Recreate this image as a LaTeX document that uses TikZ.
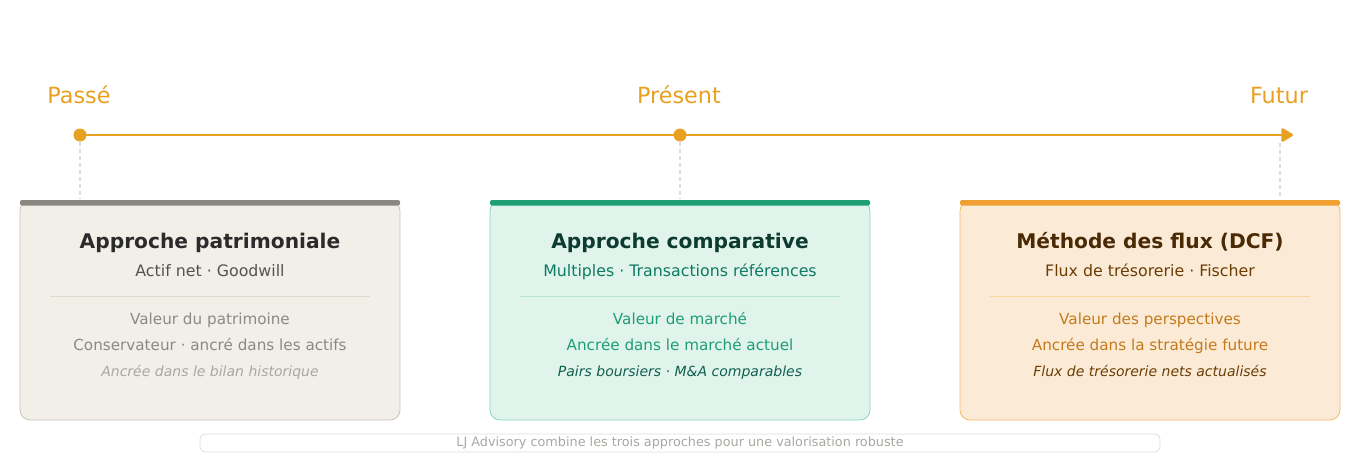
\documentclass[tikz,border=0pt]{standalone}
\usepackage{fontspec}
\setmainfont{DejaVu Sans}
\usetikzlibrary{arrows.meta}

\definecolor{tlorange}{HTML}{E8A020}
\definecolor{tick}{HTML}{DDDDDD}
% patrimoniale
\definecolor{pfill}{HTML}{F2EFE8}
\definecolor{pborder}{HTML}{C8C4BC}
\definecolor{pbar}{HTML}{8A8780}
\definecolor{ptitle}{HTML}{2B2B2B}
\definecolor{psub}{HTML}{555250}
\definecolor{ptxt}{HTML}{8C8883}
\definecolor{pnote}{HTML}{AAA7A2}
\definecolor{psep}{HTML}{DEDAD2}
% comparative
\definecolor{cfill}{HTML}{E0F4EC}
\definecolor{cborder}{HTML}{8CD2BA}
\definecolor{cbar}{HTML}{1E9E74}
\definecolor{ctitle}{HTML}{0D3B30}
\definecolor{csub}{HTML}{0F7A62}
\definecolor{ctxt}{HTML}{1E9E74}
\definecolor{cnote}{HTML}{11604E}
\definecolor{csep}{HTML}{B8E6D6}
% flux
\definecolor{ffill}{HTML}{FBEBD6}
\definecolor{fborder}{HTML}{F0BC68}
\definecolor{fbar}{HTML}{F0A030}
\definecolor{ftitle}{HTML}{4A2A05}
\definecolor{fsub}{HTML}{6B3D05}
\definecolor{ftxt}{HTML}{C47A1C}
\definecolor{fnote}{HTML}{6B3D05}
\definecolor{fsep}{HTML}{F7D9A0}

\begin{document}
\begin{tikzpicture}[x=1pt,y=-1pt,
    dot/.style={shape=circle,fill=tlorange,inner sep=0pt,minimum size=13pt},
    era/.style={anchor=base,text=tlorange,font=\fontsize{22.3}{26}\selectfont},
    card/.style={draw,rounded corners=10pt,line width=0.8pt,minimum width=380pt,minimum height=219pt},
    cardtitle/.style={anchor=base,font=\fontsize{20.2}{24}\selectfont\bfseries},
    cardsub/.style={anchor=base,font=\fontsize{15.8}{19}\selectfont},
    cardtxt/.style={anchor=base,font=\fontsize{15.2}{18}\selectfont},
    cardnote/.style={anchor=base,font=\fontsize{14}{17}\selectfont\itshape},
    drop/.style={draw=tick,line width=1.5pt,dash pattern=on 4pt off 3pt}]
  \useasboundingbox (0,0) rectangle (1360,460);

  % timeline
  \node[era] (past) at (79,103) {Passé};
  \node[era] (now) at (679,103) {Présent};
  \node[era] (future) at (1279,103) {Futur};

  \coordinate (D1) at (80,135);
  \coordinate (D3) at (1280,135);
  \coordinate (tip) at (1293,135);

  \draw[drop] (80,142) -- (80,199);
  \draw[drop] (680,142) -- (680,199);
  \draw[drop] (1280,143) -- (1280,199);

  \draw[tlorange,line width=2.5pt,-{Triangle[round,length=13pt,width=15pt]}] (D1) -- (tip);
  \node[dot] (P1) at (D1) {};
  \node[dot] (P2) at (680,135) {};

  % cards
  \node[card,fill=pfill,draw=pborder] (C1) at (210,310.5) {};
  \node[card,fill=cfill,draw=cborder] (C2) at (680,310.5) {};
  \node[card,fill=ffill,draw=fborder] (C3) at (1150,310.5) {};

  \fill[pbar,rounded corners=2pt] (20,200) rectangle (400,205.5);
  \fill[cbar,rounded corners=2pt] (490,200) rectangle (870,205.5);
  \fill[fbar,rounded corners=2pt] (960,200) rectangle (1340,205.5);

  \node[cardtitle,text=ptitle] (T1) at (210,248) {Approche patrimoniale};
  \node[cardsub,text=psub] (S1) at (210,276.5) {Actif net · Goodwill};
  \draw[psep,line width=1pt] (50,296) -- (370,296);
  \node[cardtxt,text=ptxt] (A1) at (210,324) {Valeur du patrimoine};
  \node[cardtxt,text=ptxt] (B1) at (210,350) {Conservateur · ancré dans les actifs};
  \node[cardnote,text=pnote] (N1) at (210,376) {Ancrée dans le bilan historique};

  \node[cardtitle,text=ctitle] (T2) at (680,248) {Approche comparative};
  \node[cardsub,text=csub] (S2) at (680,276.5) {Multiples · Transactions références};
  \draw[csep,line width=1pt] (520,296) -- (840,296);
  \node[cardtxt,text=ctxt] (A2) at (680,324) {Valeur de marché};
  \node[cardtxt,text=ctxt] (B2) at (680,350) {Ancrée dans le marché actuel};
  \node[cardnote,text=cnote] (N2) at (680,376) {Pairs boursiers · M\&A comparables};

  \node[cardtitle,text=ftitle] (T3) at (1150,248) {Méthode des flux (DCF)};
  \node[cardsub,text=fsub] (S3) at (1150,276.5) {Flux de trésorerie · Fischer};
  \draw[fsep,line width=1pt] (990,296) -- (1310,296);
  \node[cardtxt,text=ftxt] (A3) at (1150,324) {Valeur des perspectives};
  \node[cardtxt,text=ftxt] (B3) at (1150,350) {Ancrée dans la stratégie future};
  \node[cardnote,text=fnote] (N3) at (1150,376) {Flux de trésorerie nets actualisés};

  % footer
  \node[draw=tick,line width=0.8pt,rounded corners=5pt,minimum width=960pt,minimum height=18pt,
        inner sep=0pt,text=pnote,font=\fontsize{12.8}{15}\selectfont] (foot) at (680,443)
        {LJ Advisory combine les trois approches pour une valorisation robuste};
\end{tikzpicture}
\end{document}
